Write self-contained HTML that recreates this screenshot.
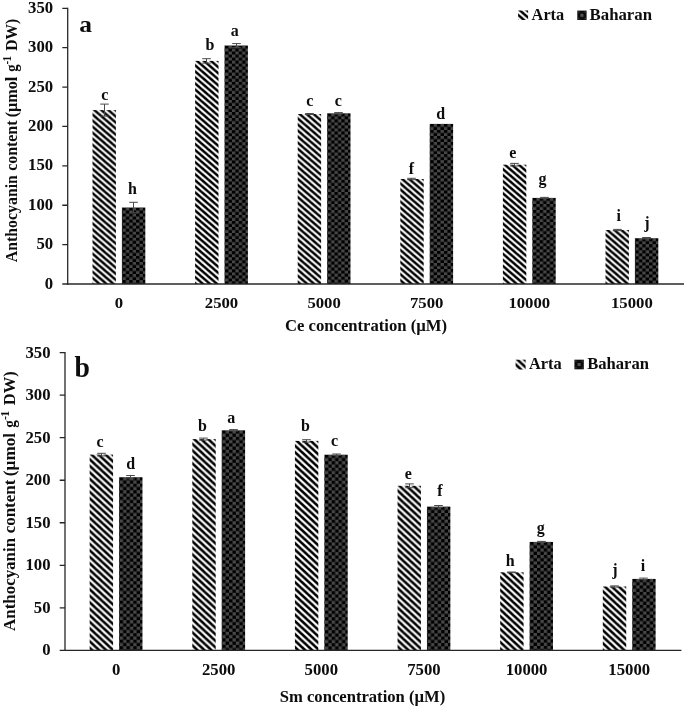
<!DOCTYPE html>
<html lang="en">
<head>
<meta charset="utf-8">
<title>Anthocyanin content chart</title>
<style>
html,body{margin:0;padding:0;background:#fff;}
body{width:685px;height:706px;overflow:hidden;font-family:"Liberation Serif", serif;}
svg{display:block;}
svg text{font-family:"Liberation Serif", serif;font-weight:bold;fill:#0a0a0a;}
</style>
</head>
<body>
<svg width="685" height="706" viewBox="0 0 685 706">
<defs>
<pattern id="stripeA" patternUnits="userSpaceOnUse" width="7.0" height="6.05" patternTransform="translate(0 0)"><rect width="7.0" height="6.05" fill="#fff"/><polygon points="0,0 3.850,0 7.0,2.722 7.0,6.05" fill="#000"/><polygon points="0,2.722 3.850,6.05 0,6.05" fill="#000"/></pattern>
<pattern id="checkA" patternUnits="userSpaceOnUse" width="6.8" height="6.05" patternTransform="translate(0.6 0)"><rect width="6.8" height="6.05" fill="#000"/><rect x="3.4" y="0" width="3.4" height="3.025" fill="#464646"/><rect x="0" y="3.025" width="3.4" height="3.025" fill="#464646"/></pattern>
<pattern id="stripeB" patternUnits="userSpaceOnUse" width="7.0" height="6.5" patternTransform="translate(0 0)"><rect width="7.0" height="6.5" fill="#fff"/><polygon points="0,0 3.850,0 7.0,2.925 7.0,6.5" fill="#000"/><polygon points="0,2.925 3.850,6.5 0,6.5" fill="#000"/></pattern>
<pattern id="checkB" patternUnits="userSpaceOnUse" width="6.8" height="6.5" patternTransform="translate(0.6 0)"><rect width="6.8" height="6.5" fill="#000"/><rect x="3.4" y="0" width="3.4" height="3.25" fill="#464646"/><rect x="0" y="3.25" width="3.4" height="3.25" fill="#464646"/></pattern>
<filter id="soft" x="-5%" y="-5%" width="110%" height="110%"><feGaussianBlur stdDeviation="0.42"/></filter>
</defs>
<rect width="685" height="706" fill="#fff"/>
<g filter="url(#soft)">
<!-- chart a -->
<g>
<g transform="translate(92.50 110.10)"><rect width="23.40" height="173.90" fill="url(#stripeA)"/></g>
<g transform="translate(121.90 207.50)"><rect width="23.40" height="76.50" fill="url(#checkA)"/></g>
<path d="M104.50 104.10V116.10M100.20 104.10H108.80M100.20 116.10H108.80" stroke="#484848" stroke-width="1" fill="none"/>
<path d="M133.50 202.30V212.70M129.20 202.30H137.80M129.20 212.70H137.80" stroke="#484848" stroke-width="1" fill="none"/>
<g transform="translate(195.10 60.90)"><rect width="23.40" height="223.10" fill="url(#stripeA)"/></g>
<g transform="translate(224.50 45.50)"><rect width="23.40" height="238.50" fill="url(#checkA)"/></g>
<path d="M206.50 58.70V63.10M202.20 58.70H210.80M202.20 63.10H210.80" stroke="#484848" stroke-width="1" fill="none"/>
<path d="M236.50 43.60V47.40M232.20 43.60H240.80M232.20 47.40H240.80" stroke="#484848" stroke-width="1" fill="none"/>
<g transform="translate(297.70 114.00)"><rect width="23.40" height="170.00" fill="url(#stripeA)"/></g>
<g transform="translate(327.10 113.30)"><rect width="23.40" height="170.70" fill="url(#checkA)"/></g>
<path d="M309.50 113.50V114.50M305.20 113.50H313.80M305.20 114.50H313.80" stroke="#484848" stroke-width="1" fill="none"/>
<path d="M338.50 112.60V114.00M334.20 112.60H342.80M334.20 114.00H342.80" stroke="#484848" stroke-width="1" fill="none"/>
<g transform="translate(400.30 179.00)"><rect width="23.40" height="105.00" fill="url(#stripeA)"/></g>
<g transform="translate(429.70 123.90)"><rect width="23.40" height="160.10" fill="url(#checkA)"/></g>
<path d="M411.50 178.30V179.70M407.20 178.30H415.80M407.20 179.70H415.80" stroke="#484848" stroke-width="1" fill="none"/>
<g transform="translate(502.90 164.70)"><rect width="23.40" height="119.30" fill="url(#stripeA)"/></g>
<g transform="translate(532.30 197.90)"><rect width="23.40" height="86.10" fill="url(#checkA)"/></g>
<path d="M514.50 163.40V166.00M510.20 163.40H518.80M510.20 166.00H518.80" stroke="#484848" stroke-width="1" fill="none"/>
<path d="M544.50 197.40V198.40M540.20 197.40H548.80M540.20 198.40H548.80" stroke="#484848" stroke-width="1" fill="none"/>
<g transform="translate(605.50 230.00)"><rect width="23.40" height="54.00" fill="url(#stripeA)"/></g>
<g transform="translate(634.90 238.20)"><rect width="23.40" height="45.80" fill="url(#checkA)"/></g>
<path d="M617.50 229.40V230.60M613.20 229.40H621.80M613.20 230.60H621.80" stroke="#484848" stroke-width="1" fill="none"/>
<path d="M646.50 237.50V238.90M642.20 237.50H650.80M642.20 238.90H650.80" stroke="#484848" stroke-width="1" fill="none"/>
<path d="M67.7 7.70V284.65" stroke="#262626" stroke-width="1.3" fill="none"/>
<path d="M62.3 284.00H684.0" stroke="#262626" stroke-width="1.3" fill="none"/>
<path d="M62.3 244.61H67.7M62.3 205.23H67.7M62.3 165.84H67.7M62.3 126.46H67.7M62.3 87.07H67.7M62.3 47.69H67.7M62.3 8.30H67.7" stroke="#262626" stroke-width="1.3" fill="none"/>
<text transform="translate(53.10 288.56) scale(1.045 1.03)" font-size="16" text-anchor="end">0</text>
<text transform="translate(53.10 249.18) scale(1.045 1.03)" font-size="16" text-anchor="end">50</text>
<text transform="translate(53.10 209.79) scale(1.045 1.03)" font-size="16" text-anchor="end">100</text>
<text transform="translate(53.10 170.40) scale(1.045 1.03)" font-size="16" text-anchor="end">150</text>
<text transform="translate(53.10 131.02) scale(1.045 1.03)" font-size="16" text-anchor="end">200</text>
<text transform="translate(53.10 91.63) scale(1.045 1.03)" font-size="16" text-anchor="end">250</text>
<text transform="translate(53.10 52.25) scale(1.045 1.03)" font-size="16" text-anchor="end">300</text>
<text transform="translate(53.10 12.86) scale(1.045 1.03)" font-size="16" text-anchor="end">350</text>
<text transform="translate(118.90 307.90) scale(1.045 0.97)" font-size="16" text-anchor="middle">0</text>
<text transform="translate(221.50 307.90) scale(1.045 0.97)" font-size="16" text-anchor="middle">2500</text>
<text transform="translate(324.10 307.90) scale(1.045 0.97)" font-size="16" text-anchor="middle">5000</text>
<text transform="translate(426.70 307.90) scale(1.045 0.97)" font-size="16" text-anchor="middle">7500</text>
<text transform="translate(529.30 307.90) scale(1.045 0.97)" font-size="16" text-anchor="middle">10000</text>
<text transform="translate(631.90 307.90) scale(1.045 0.97)" font-size="16" text-anchor="middle">15000</text>
<text transform="translate(285.00 331.30) scale(1.0 1.0)" font-size="16" text-anchor="start" textLength="162.10" lengthAdjust="spacingAndGlyphs">Ce concentration (µM)</text>
<text transform="translate(17.0 262.20) rotate(-90) scale(1 0.96)" font-size="16.5" textLength="87.10" lengthAdjust="spacingAndGlyphs">Anthocyanin</text>
<text transform="translate(17.0 170.80) rotate(-90) scale(1 0.96)" font-size="16.5" textLength="50.30" lengthAdjust="spacingAndGlyphs">content</text>
<text transform="translate(17.0 117.30) rotate(-90) scale(1 0.96)" font-size="16.5" textLength="40.60" lengthAdjust="spacingAndGlyphs">(µmol</text>
<text transform="translate(17.0 71.80) rotate(-90) scale(1 0.96)" font-size="16.5" textLength="15.10" lengthAdjust="spacingAndGlyphs">g<tspan font-size="12.5" dy="-5.8" letter-spacing="-0.8">-1</tspan></text>
<text transform="translate(17.0 50.70) rotate(-90) scale(1 0.96)" font-size="16.5" textLength="31.80" lengthAdjust="spacingAndGlyphs">DW)</text>
<text transform="translate(79.30 31.80) scale(1.06 1.0)" font-size="24" text-anchor="start">a</text>
<text transform="translate(104.80 99.70) scale(1.0 1.03)" font-size="16" text-anchor="middle">c</text>
<text transform="translate(132.50 194.40) scale(1.0 1.03)" font-size="16" text-anchor="middle">h</text>
<text transform="translate(210.00 50.40) scale(1.0 1.03)" font-size="16" text-anchor="middle">b</text>
<text transform="translate(234.80 35.60) scale(1.0 1.03)" font-size="16" text-anchor="middle">a</text>
<text transform="translate(309.80 105.50) scale(1.0 1.03)" font-size="16" text-anchor="middle">c</text>
<text transform="translate(338.40 105.50) scale(1.0 1.03)" font-size="16" text-anchor="middle">c</text>
<text transform="translate(411.40 173.50) scale(1.0 1.03)" font-size="16" text-anchor="middle">f</text>
<text transform="translate(440.80 118.50) scale(1.0 1.03)" font-size="16" text-anchor="middle">d</text>
<text transform="translate(512.90 157.70) scale(1.0 1.03)" font-size="16" text-anchor="middle">e</text>
<text transform="translate(542.50 183.70) scale(1.0 1.03)" font-size="16" text-anchor="middle">g</text>
<text transform="translate(618.80 220.70) scale(1.0 1.03)" font-size="16" text-anchor="middle">i</text>
<text transform="translate(647.00 228.40) scale(1.0 1.03)" font-size="16" text-anchor="middle">j</text>
<g transform="translate(518.1 10.5)"><rect width="10.0" height="9.5" fill="url(#stripeA)"/></g>
<g transform="translate(577.3 10.6)"><rect width="9.3" height="9.4" fill="#0c0c0c"/><rect x="3.15" y="3.20" width="3" height="3" fill="#555"/><rect x="0.6" y="0.6" width="1.6" height="1.6" fill="#333"/><rect x="7.10" y="0.6" width="1.6" height="1.6" fill="#333"/><rect x="0.6" y="7.20" width="1.6" height="1.6" fill="#333"/><rect x="7.10" y="7.20" width="1.6" height="1.6" fill="#333"/></g>
<text transform="translate(531.60 19.80) scale(1.0 1.0)" font-size="16" text-anchor="start" textLength="32.60" lengthAdjust="spacingAndGlyphs">Arta</text>
<text transform="translate(589.60 19.80) scale(1.0 1.0)" font-size="16" text-anchor="start" textLength="62.40" lengthAdjust="spacingAndGlyphs">Baharan</text>
</g>
<!-- chart b -->
<g>
<g transform="translate(89.66 454.60)"><rect width="23.40" height="195.75" fill="url(#stripeB)"/></g>
<g transform="translate(119.06 477.20)"><rect width="23.40" height="173.15" fill="url(#checkB)"/></g>
<path d="M101.50 453.30V455.90M97.20 453.30H105.80M97.20 455.90H105.80" stroke="#484848" stroke-width="1" fill="none"/>
<path d="M130.50 475.50V478.90M126.20 475.50H134.80M126.20 478.90H134.80" stroke="#484848" stroke-width="1" fill="none"/>
<g transform="translate(192.29 439.10)"><rect width="23.40" height="211.25" fill="url(#stripeB)"/></g>
<g transform="translate(221.69 430.30)"><rect width="23.40" height="220.05" fill="url(#checkB)"/></g>
<path d="M203.50 438.10V440.10M199.20 438.10H207.80M199.20 440.10H207.80" stroke="#484848" stroke-width="1" fill="none"/>
<path d="M233.50 429.60V431.00M229.20 429.60H237.80M229.20 431.00H237.80" stroke="#484848" stroke-width="1" fill="none"/>
<g transform="translate(294.92 440.90)"><rect width="23.40" height="209.45" fill="url(#stripeB)"/></g>
<g transform="translate(324.32 454.70)"><rect width="23.40" height="195.65" fill="url(#checkB)"/></g>
<path d="M306.50 439.70V442.10M302.20 439.70H310.80M302.20 442.10H310.80" stroke="#484848" stroke-width="1" fill="none"/>
<path d="M336.50 454.00V455.40M332.20 454.00H340.80M332.20 455.40H340.80" stroke="#484848" stroke-width="1" fill="none"/>
<g transform="translate(397.55 485.80)"><rect width="23.40" height="164.55" fill="url(#stripeB)"/></g>
<g transform="translate(426.95 506.60)"><rect width="23.40" height="143.75" fill="url(#checkB)"/></g>
<path d="M409.50 483.90V487.70M405.20 483.90H413.80M405.20 487.70H413.80" stroke="#484848" stroke-width="1" fill="none"/>
<path d="M438.50 505.50V507.70M434.20 505.50H442.80M434.20 507.70H442.80" stroke="#484848" stroke-width="1" fill="none"/>
<g transform="translate(500.18 572.30)"><rect width="23.40" height="78.05" fill="url(#stripeB)"/></g>
<g transform="translate(529.58 541.90)"><rect width="23.40" height="108.45" fill="url(#checkB)"/></g>
<path d="M511.50 572.00V572.60M507.20 572.00H515.80M507.20 572.60H515.80" stroke="#484848" stroke-width="1" fill="none"/>
<path d="M541.50 541.40V542.40M537.20 541.40H545.80M537.20 542.40H545.80" stroke="#484848" stroke-width="1" fill="none"/>
<g transform="translate(602.81 586.50)"><rect width="23.40" height="63.85" fill="url(#stripeB)"/></g>
<g transform="translate(632.21 578.90)"><rect width="23.40" height="71.45" fill="url(#checkB)"/></g>
<path d="M614.50 585.90V587.10M610.20 585.90H618.80M610.20 587.10H618.80" stroke="#484848" stroke-width="1" fill="none"/>
<path d="M643.50 578.10V579.70M639.20 578.10H647.80M639.20 579.70H647.80" stroke="#484848" stroke-width="1" fill="none"/>
<path d="M65.0 352.05V651.00" stroke="#262626" stroke-width="1.3" fill="none"/>
<path d="M59.7 650.35H681.4" stroke="#262626" stroke-width="1.3" fill="none"/>
<path d="M59.7 607.82H65.0M59.7 565.29H65.0M59.7 522.76H65.0M59.7 480.24H65.0M59.7 437.71H65.0M59.7 395.18H65.0M59.7 352.65H65.0" stroke="#262626" stroke-width="1.3" fill="none"/>
<text transform="translate(50.50 655.33) scale(1.045 1.07)" font-size="16" text-anchor="end">0</text>
<text transform="translate(50.50 612.80) scale(1.045 1.07)" font-size="16" text-anchor="end">50</text>
<text transform="translate(50.50 570.27) scale(1.045 1.07)" font-size="16" text-anchor="end">100</text>
<text transform="translate(50.50 527.74) scale(1.045 1.07)" font-size="16" text-anchor="end">150</text>
<text transform="translate(50.50 485.21) scale(1.045 1.07)" font-size="16" text-anchor="end">200</text>
<text transform="translate(50.50 442.69) scale(1.045 1.07)" font-size="16" text-anchor="end">250</text>
<text transform="translate(50.50 400.16) scale(1.045 1.07)" font-size="16" text-anchor="end">300</text>
<text transform="translate(50.50 357.63) scale(1.045 1.07)" font-size="16" text-anchor="end">350</text>
<text transform="translate(116.06 675.40) scale(1.045 1.05)" font-size="16" text-anchor="middle">0</text>
<text transform="translate(218.69 675.40) scale(1.045 1.05)" font-size="16" text-anchor="middle">2500</text>
<text transform="translate(321.32 675.40) scale(1.045 1.05)" font-size="16" text-anchor="middle">5000</text>
<text transform="translate(423.95 675.40) scale(1.045 1.05)" font-size="16" text-anchor="middle">7500</text>
<text transform="translate(526.58 675.40) scale(1.045 1.05)" font-size="16" text-anchor="middle">10000</text>
<text transform="translate(629.21 675.40) scale(1.045 1.05)" font-size="16" text-anchor="middle">15000</text>
<text transform="translate(279.70 702.20) scale(1.0 1.06)" font-size="16" text-anchor="start" textLength="165.60" lengthAdjust="spacingAndGlyphs">Sm concentration (µM)</text>
<text transform="translate(15.1 630.91) rotate(-90) scale(1 1.0)" font-size="16.5" textLength="92.95" lengthAdjust="spacingAndGlyphs">Anthocyanin</text>
<text transform="translate(15.1 533.34) rotate(-90) scale(1 1.0)" font-size="16.5" textLength="53.66" lengthAdjust="spacingAndGlyphs">content</text>
<text transform="translate(15.1 476.23) rotate(-90) scale(1 1.0)" font-size="16.5" textLength="43.31" lengthAdjust="spacingAndGlyphs">(µmol</text>
<text transform="translate(15.1 427.66) rotate(-90) scale(1 1.0)" font-size="16.5" textLength="16.09" lengthAdjust="spacingAndGlyphs">g<tspan font-size="13.0" dy="-6.3" letter-spacing="-0.8">-1</tspan></text>
<text transform="translate(15.1 405.13) rotate(-90) scale(1 1.0)" font-size="16.5" textLength="33.91" lengthAdjust="spacingAndGlyphs">DW)</text>
<text transform="translate(74.60 377.40) scale(0.92 1.0)" font-size="30" text-anchor="start">b</text>
<text transform="translate(100.00 447.00) scale(1.0 1.06)" font-size="16" text-anchor="middle">c</text>
<text transform="translate(130.60 469.30) scale(1.0 1.06)" font-size="16" text-anchor="middle">d</text>
<text transform="translate(202.50 430.80) scale(1.0 1.06)" font-size="16" text-anchor="middle">b</text>
<text transform="translate(231.30 422.70) scale(1.0 1.06)" font-size="16" text-anchor="middle">a</text>
<text transform="translate(305.50 431.40) scale(1.0 1.06)" font-size="16" text-anchor="middle">b</text>
<text transform="translate(334.60 446.40) scale(1.0 1.06)" font-size="16" text-anchor="middle">c</text>
<text transform="translate(408.40 478.50) scale(1.0 1.06)" font-size="16" text-anchor="middle">e</text>
<text transform="translate(439.80 495.50) scale(1.0 1.06)" font-size="16" text-anchor="middle">f</text>
<text transform="translate(510.10 566.40) scale(1.0 1.06)" font-size="16" text-anchor="middle">h</text>
<text transform="translate(540.80 532.60) scale(1.0 1.06)" font-size="16" text-anchor="middle">g</text>
<text transform="translate(615.00 574.50) scale(1.0 1.06)" font-size="16" text-anchor="middle">j</text>
<text transform="translate(643.00 570.70) scale(1.0 1.06)" font-size="16" text-anchor="middle">i</text>
<g transform="translate(515.6 359.7)"><rect width="10.0" height="9.8" fill="url(#stripeB)"/></g>
<g transform="translate(574.4 359.7)"><rect width="9.4" height="9.6" fill="#0c0c0c"/><rect x="3.20" y="3.30" width="3" height="3" fill="#555"/><rect x="0.6" y="0.6" width="1.6" height="1.6" fill="#333"/><rect x="7.20" y="0.6" width="1.6" height="1.6" fill="#333"/><rect x="0.6" y="7.40" width="1.6" height="1.6" fill="#333"/><rect x="7.20" y="7.40" width="1.6" height="1.6" fill="#333"/></g>
<text transform="translate(529.00 369.00) scale(1.0 1.07)" font-size="16" text-anchor="start" textLength="32.70" lengthAdjust="spacingAndGlyphs">Arta</text>
<text transform="translate(587.20 369.00) scale(1.0 1.07)" font-size="16" text-anchor="start" textLength="61.80" lengthAdjust="spacingAndGlyphs">Baharan</text>
</g>
</g>
</svg>
</body>
</html>
